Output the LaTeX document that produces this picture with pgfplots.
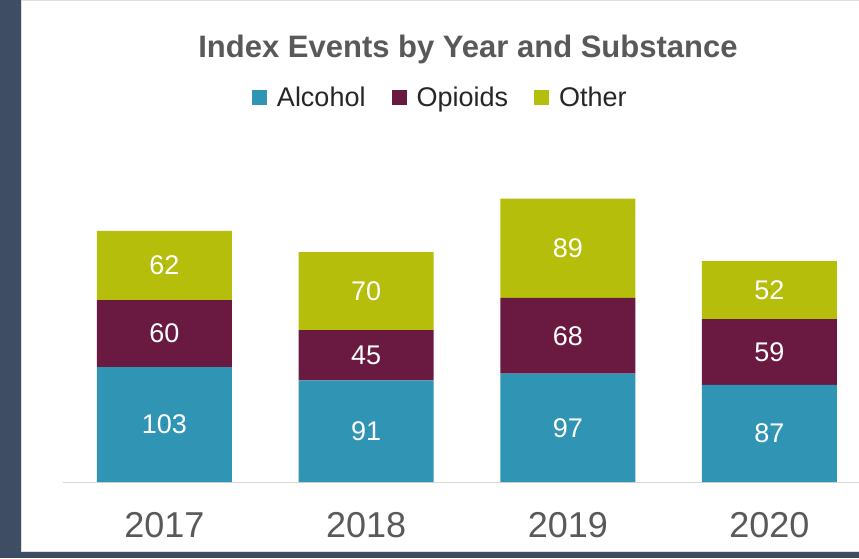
\documentclass[border=0pt]{standalone}
\usepackage{pgfplots}
\pgfplotsset{compat=1.18}
\usepackage{fontspec}
\setmainfont{Liberation Sans}
\definecolor{frame}{HTML}{3E4D63}
\definecolor{alc}{HTML}{3094B4}
\definecolor{opi}{HTML}{6A1A41}
\definecolor{oth}{HTML}{B6BE0C}
\definecolor{titlegray}{HTML}{595959}
\definecolor{legtext}{HTML}{262626}
\begin{document}
\begin{tikzpicture}[x=1pt,y=1pt]
\useasboundingbox (0,0) rectangle (859,558);
\clip (0,0) rectangle (859,558);
\fill[frame] (0,0) rectangle (859,558);
\filldraw[fill=white, draw=gray!25, line width=1pt] (21.5,7) rectangle (880,557.5);
\node[font=\fontsize{31pt}{36pt}\selectfont\bfseries, text=titlegray] at (468,509) {Index Events by Year and Substance};
\begin{axis}[
  at={(63pt,76pt)}, anchor=south west,
  scale only axis, width=796pt, height=312.5pt,
  xmin=-0.503, xmax=3.444, ymin=0, ymax=280,
  ybar stacked, bar width=135pt,
  axis x line*=bottom, axis y line=none,
  x axis line style={draw=gray!30, line width=1pt},
  xtick={0,1,2,3}, xticklabels={2017,2018,2019,2020},
  major tick length=0pt,
  xticklabel style={anchor=center, yshift=-43pt, text=titlegray, font=\fontsize{36pt}{40pt}\selectfont},
  ytick=\empty,
  legend columns=-1,
  legend style={at={(0.474,1.230)}, anchor=center, draw=none, fill=none,
    font=\fontsize{27pt}{30pt}\selectfont, text=legtext,
    /tikz/every even column/.append style={column sep=24pt},
    inner sep=0pt},
  legend image code/.code={\fill[#1] (0pt,-7.5pt) rectangle (15pt,7.5pt); \path (23pt,0pt);},
]
\addplot[fill=alc, draw=none] coordinates {(0,103) (1,91) (2,97) (3,87)};
\addlegendentry{Alcohol}
\addplot[fill=opi, draw=none] coordinates {(0,60) (1,45) (2,68) (3,59)};
\addlegendentry{Opioids}
\addplot[fill=oth, draw=none] coordinates {(0,62) (1,70) (2,89) (3,52)};
\addlegendentry{Other}
\end{axis}
\begin{axis}[
  at={(63pt,76pt)}, anchor=south west,
  scale only axis, width=796pt, height=312.5pt,
  xmin=-0.503, xmax=3.444, ymin=0, ymax=280,
  hide axis,
]
\addplot[only marks, mark=*, mark size=0.01pt, mark options={draw=none, fill=none},
  nodes near coords, point meta=explicit symbolic,
  nodes near coords style={anchor=center, text=white, font=\fontsize{27pt}{30pt}\selectfont}]
  table[meta=lab] {
x y lab
0 51.5 103
0 133 60
0 194 62
1 45.5 91
1 113.5 45
1 171 70
2 48.5 97
2 131 68
2 209.5 89
3 43.5 87
3 116.5 59
3 172 52
};
\end{axis}
\end{tikzpicture}
\end{document}
